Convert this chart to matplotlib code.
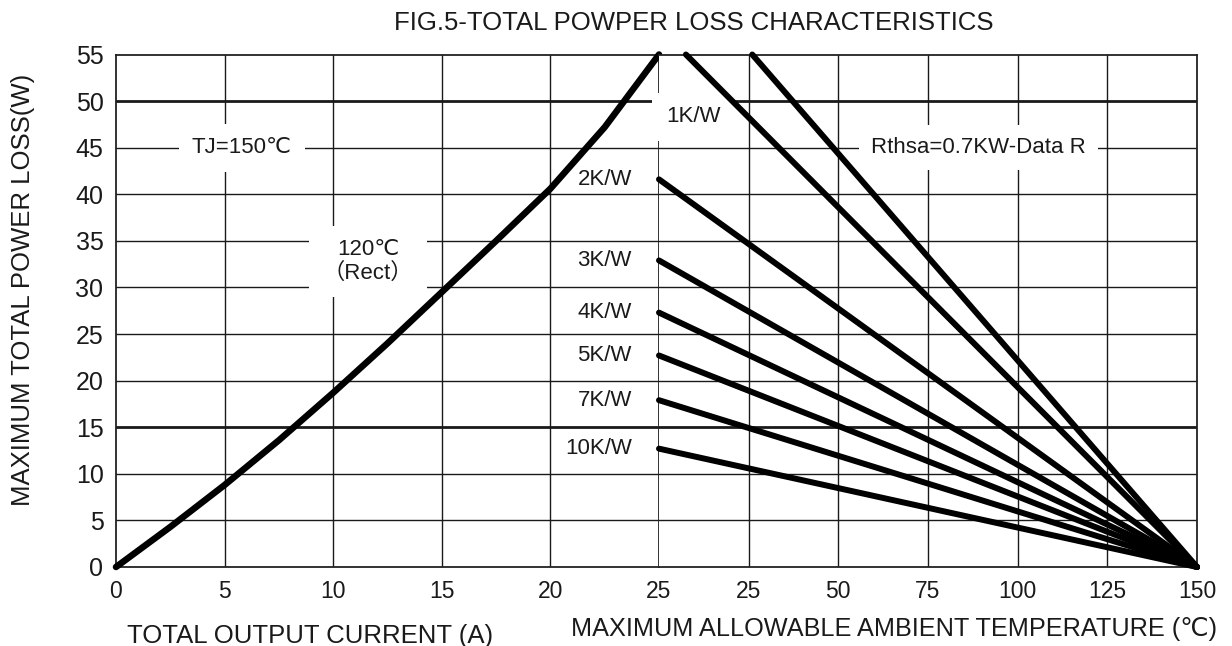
import matplotlib
matplotlib.use("Agg")
import matplotlib.pyplot as plt

plt.rcParams['font.family'] = ['Liberation Sans', 'DejaVu Sans', 'Noto Sans CJK SC']

# ---- data ----
current_a = [0, 2.5, 5, 7.5, 10, 12.5, 15, 17.5, 20, 22.5, 25]
power_w = [0, 4.3, 8.8, 13.6, 18.7, 24.0, 29.5, 35.0, 40.6, 47.2, 55]

rth_labels = ['Rthsa=0.7KW-Data R', '1K/W', '2K/W', '3K/W', '4K/W', '5K/W', '7K/W', '10K/W']
rth_t_start = [26, 7.5, 0, 0, 0, 0, 0, 0]
rth_p_start = [55, 55, 41.6, 32.9, 27.3, 22.7, 17.9, 12.7]
rth_t_end = [150, 150, 150, 150, 150, 150, 150, 150]
rth_p_end = [0, 0, 0, 0, 0, 0, 0, 0]

y_ticks = [0, 5, 10, 15, 20, 25, 30, 35, 40, 45, 50, 55]
x_ticks_current = [0, 5, 10, 15, 20, 25]
x_ticks_temp = [25, 50, 75, 100, 125, 150]

W, H = 1232, 646
fig = plt.figure(figsize=(W / 100, H / 100), dpi=100)

x0, x_mid, x1 = 116, 659, 1197
y_top, y_bot = 54.5, 567

def rect(a, b):
    return [a / W, (H - y_bot) / H, (b - a) / W, (y_bot - y_top) / H]

axL = fig.add_axes(rect(x0, x_mid))
axR = fig.add_axes(rect(x_mid, x1))

grid_c = '#1a1a1a'
txt_c = '#1a1a1a'
thick_rows = [15, 50]

for ax, xlim, xt in ((axL, (0, 25), x_ticks_current), (axR, (0, 150), x_ticks_temp)):
    ax.set_xlim(*xlim)
    ax.set_ylim(0, 55)
    ax.set_xticks(xt)
    ax.set_yticks(y_ticks)
    for y in y_ticks[1:-1]:
        ax.axhline(y, color=grid_c, lw=2.0 if y in thick_rows else 1.0, zorder=1)
    for x in xt:
        if xlim[0] < x < xlim[1]:
            ax.axvline(x, color=grid_c, lw=1.0, zorder=1)
    for s in ax.spines.values():
        s.set_color('#222222')
        s.set_linewidth(1.3)
    ax.tick_params(axis='x', length=0, labelsize=16.5, pad=9, labelcolor=txt_c)
    ax.tick_params(axis='y', length=0, labelsize=18, pad=9, labelcolor=txt_c)

axR.set_yticklabels([])
axR.spines['left'].set_visible(False)

# curves
axL.plot(current_a, power_w, color='black', lw=4.7, solid_capstyle='round',
         solid_joinstyle='round', zorder=5, clip_on=False)
for ts, ps, te, pe in zip(rth_t_start, rth_p_start, rth_t_end, rth_p_end):
    axR.plot([ts, te], [ps, pe], color='black', lw=4.3, solid_capstyle='round', zorder=5, clip_on=False)

tfont = 16
def wbox(p):
    return dict(boxstyle=f'square,pad={p}', fc='white', ec='none')

axL.text(5.8, 45, 'TJ=150℃', ha='center', va='center', fontsize=tfont, color=txt_c,
         bbox=wbox(0.6), zorder=3)
axL.text(11.6, 32.8, '120℃\n（Rect）', ha='center', va='center', fontsize=tfont, color=txt_c,
         linespacing=1.15, bbox=wbox(0.6), zorder=3)
axR.text(89, 45, rth_labels[0], ha='center', va='center', fontsize=tfont, color=txt_c,
         bbox=wbox(0.55), zorder=3)
axR.axes.text(9.5, 48.3, rth_labels[1], ha='center', va='center', fontsize=tfont, color=txt_c,
              bbox=wbox(0.6), zorder=3, clip_on=False)
for lab, ps in zip(rth_labels[2:], rth_p_start[2:]):
    axL.text(23.75, ps, lab, ha='right', va='center', fontsize=tfont, color=txt_c, zorder=3)

fig.text(694 / W, 1 - 23 / H, 'FIG.5-TOTAL POWPER LOSS CHARACTERISTICS', ha='center', va='center',
         fontsize=18.5, color=txt_c)
fig.text(23 / W, 1 - 290 / H, 'MAXIMUM TOTAL POWER LOSS(W)', rotation=90, ha='center', va='center',
         fontsize=18.5, color=txt_c)
fig.text(310 / W, 1 - 636 / H, 'TOTAL OUTPUT CURRENT (A)', ha='center', va='center',
         fontsize=18.5, color=txt_c)
fig.text(894 / W, 1 - 629 / H, 'MAXIMUM ALLOWABLE AMBIENT TEMPERATURE (℃)', ha='center', va='center',
         fontsize=18.2, color=txt_c)

fig.savefig('out.png', dpi=100, facecolor='white')
